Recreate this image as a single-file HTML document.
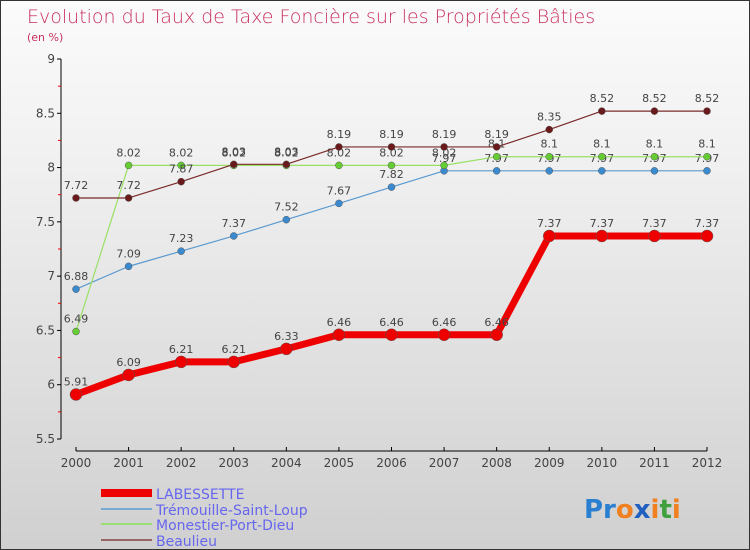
<!DOCTYPE html>
<html><head><meta charset="utf-8"><style>
body{margin:0}
#c{width:750px;height:550px;position:relative;box-sizing:border-box;border:1px solid #333;background:linear-gradient(#fbfbfb,#f0f0f0 30%,#d0d0d0);font-family:"DejaVu Sans","Liberation Sans",sans-serif;overflow:hidden}
text{font-family:"DejaVu Sans","Liberation Sans",sans-serif}
</style></head><body>
<div id="c">
<svg id="s" width="750" height="550">
<text x="26" y="22" font-size="19" fill="#c8305e" font-weight="200">Evolution du Taux de Taxe Foncière sur les Propriétés Bâties</text>
<text x="26" y="40" font-size="11" fill="#c8305e">(en %)</text>
<g id="axes"></g><g id="series"></g>
<g>
<rect x="100" y="488" width="51" height="8" fill="#e00"/>
<text x="155" y="498" font-size="14" fill="#6666ee">LABESSETTE</text>
<rect x="100" y="507" width="51" height="2" fill="#7aaad0"/>
<text x="155" y="514" font-size="14" fill="#6666ee">Trémouille-Saint-Loup</text>
<rect x="100" y="522" width="51" height="2" fill="#99dd77"/>
<text x="155" y="529" font-size="14" fill="#6666ee">Monestier-Port-Dieu</text>
<rect x="100" y="538" width="51" height="2" fill="#996666"/>
<text x="155" y="545" font-size="14" fill="#6666ee">Beaulieu</text>
</g>
<g font-size="26" font-weight="bold">
<text x="583" y="517"><tspan fill="#2a7fd0">Pr</tspan><tspan fill="#f08020">o</tspan><tspan fill="#2060c0">x</tspan><tspan fill="#f08020">i</tspan><tspan fill="#40a040">t</tspan><tspan fill="#f08020">i</tspan></text>
</g>
</svg>
</div>
<script>
const years=[2000,2001,2002,2003,2004,2005,2006,2007,2008,2009,2010,2011,2012];
const yTicks=[5.5,6,6.5,7,7.5,8,8.5,9];
const labessette=[5.91,6.09,6.21,6.21,6.33,6.46,6.46,6.46,6.46,7.37,7.37,7.37,7.37];
const tremouille=[6.88,7.09,7.23,7.37,7.52,7.67,7.82,7.97,7.97,7.97,7.97,7.97,7.97];
const monestier=[6.49,8.02,8.02,8.02,8.02,8.02,8.02,8.02,8.1,8.1,8.1,8.1,8.1];
const beaulieu=[7.72,7.72,7.87,8.03,8.03,8.19,8.19,8.19,8.19,8.35,8.52,8.52,8.52];
const NS="http://www.w3.org/2000/svg";
const X=i=>75+i*(706-75)/12;
const Y=v=>438-(v-5.5)*(380/3.5);
function mk(t,a,p){const e=document.createElementNS(NS,t);for(const k in a)e.setAttribute(k,a[k]);p.appendChild(e);return e;}
const ax=document.getElementById('axes');
let l=mk('line',{x1:60,y1:Y(9),x2:60,y2:Y(5.5),stroke:'#000'},ax);


yTicks.forEach(v=>{
 mk('line',{x1:56,y1:Y(v),x2:60,y2:Y(v),stroke:'#000'},ax);
 const t=mk('text',{x:54,y:Y(v)+4,'font-size':12,fill:'#444','text-anchor':'end'},ax);
 t.textContent=v;
 
 
 if(v<9) mk('line',{x1:57,y1:Y(v+0.25),x2:60,y2:Y(v+0.25),stroke:'#e00'},ax);
});
l=mk('line',{x1:75,y1:450,x2:706,y2:450,stroke:'#000'},ax);


years.forEach((y,i)=>{
 mk('line',{x1:X(i),y1:446,x2:X(i),y2:450,stroke:'#000'},ax);
 const t=mk('text',{x:X(i),y:466,'font-size':12,fill:'#444','text-anchor':'middle'},ax);
 t.textContent=y;
 
 
});
const sg=document.getElementById('series');
function draw(d,name,col,w,r,dot){
 const g=mk('g',{},sg);
 
 
 const p=mk('polyline',{points:d.map((v,i)=>X(i)+','+Y(v)).join(' '),fill:'none',stroke:col,'stroke-width':w,'stroke-linejoin':'round'},g);
 
 
 d.forEach((v,i)=>{
  const c=mk('circle',{cx:X(i),cy:Y(v),r:r,fill:dot,stroke:'#555','stroke-width':0.5},g);
  
  
  const t=mk('text',{x:X(i),y:Y(v)-9,'font-size':11,fill:'#444','text-anchor':'middle'},g);
  t.textContent=v;
  
  
 });
}
draw(tremouille,'tremouille','#5a9ad0',1.2,3.5,'#3a8ad0');
draw(monestier,'monestier','#99e066',1.2,3.5,'#66cc33');
draw(beaulieu,'beaulieu','#7a2a2a',1.2,3.5,'#6a1a1a');
draw(labessette,'labessette','#ee0000',7,6,'#ee0000');
</script>
</body></html>
